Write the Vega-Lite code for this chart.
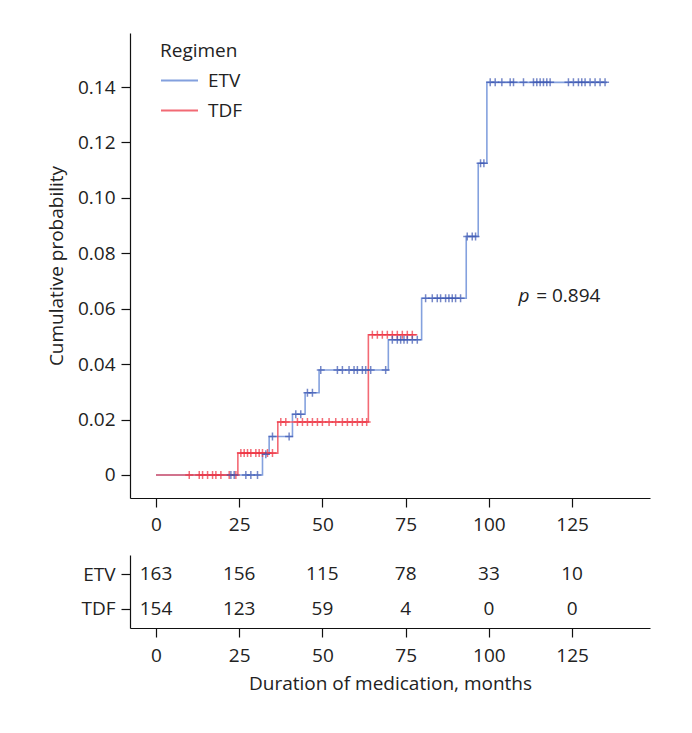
{
  "$schema": "https://vega.github.io/schema/vega-lite/v6.json",
  "background": "white",
  "padding": {"left": 47, "top": 33, "right": 40, "bottom": 40},
  "datasets": {
    "km": [
      {"group": "ETV", "time": 0, "prob": 0},
      {"group": "ETV", "time": 32, "prob": 0.0075},
      {"group": "ETV", "time": 34, "prob": 0.0139},
      {"group": "ETV", "time": 41, "prob": 0.0219},
      {"group": "ETV", "time": 44.8, "prob": 0.0297},
      {"group": "ETV", "time": 49, "prob": 0.0379},
      {"group": "ETV", "time": 69.8, "prob": 0.0488},
      {"group": "ETV", "time": 79.8, "prob": 0.0638},
      {"group": "ETV", "time": 93.2, "prob": 0.0861},
      {"group": "ETV", "time": 96.8, "prob": 0.1125},
      {"group": "ETV", "time": 99.4, "prob": 0.1417},
      {"group": "ETV", "time": 135.5, "prob": 0.1417},
      {"group": "TDF", "time": 0, "prob": 0},
      {"group": "TDF", "time": 24.6, "prob": 0.0079},
      {"group": "TDF", "time": 36.6, "prob": 0.0191},
      {"group": "TDF", "time": 63.8, "prob": 0.0506},
      {"group": "TDF", "time": 78.5, "prob": 0.0506}
    ],
    "censor": [
      {"group": "TDF", "time": 10, "prob": 0},
      {"group": "TDF", "time": 13, "prob": 0},
      {"group": "TDF", "time": 14, "prob": 0},
      {"group": "TDF", "time": 15.5, "prob": 0},
      {"group": "TDF", "time": 17, "prob": 0},
      {"group": "TDF", "time": 18, "prob": 0},
      {"group": "TDF", "time": 19.5, "prob": 0},
      {"group": "TDF", "time": 22, "prob": 0},
      {"group": "TDF", "time": 24, "prob": 0},
      {"group": "TDF", "time": 25.5, "prob": 0.0079},
      {"group": "TDF", "time": 26.5, "prob": 0.0079},
      {"group": "TDF", "time": 27.5, "prob": 0.0079},
      {"group": "TDF", "time": 28.5, "prob": 0.0079},
      {"group": "TDF", "time": 30, "prob": 0.0079},
      {"group": "TDF", "time": 31, "prob": 0.0079},
      {"group": "TDF", "time": 32, "prob": 0.0079},
      {"group": "TDF", "time": 33.5, "prob": 0.0079},
      {"group": "TDF", "time": 35, "prob": 0.0079},
      {"group": "TDF", "time": 37.5, "prob": 0.0191},
      {"group": "TDF", "time": 39, "prob": 0.0191},
      {"group": "TDF", "time": 42.5, "prob": 0.0191},
      {"group": "TDF", "time": 44, "prob": 0.0191},
      {"group": "TDF", "time": 45.5, "prob": 0.0191},
      {"group": "TDF", "time": 47, "prob": 0.0191},
      {"group": "TDF", "time": 48.5, "prob": 0.0191},
      {"group": "TDF", "time": 50, "prob": 0.0191},
      {"group": "TDF", "time": 52, "prob": 0.0191},
      {"group": "TDF", "time": 54, "prob": 0.0191},
      {"group": "TDF", "time": 56, "prob": 0.0191},
      {"group": "TDF", "time": 57.5, "prob": 0.0191},
      {"group": "TDF", "time": 59, "prob": 0.0191},
      {"group": "TDF", "time": 60.5, "prob": 0.0191},
      {"group": "TDF", "time": 62, "prob": 0.0191},
      {"group": "TDF", "time": 63.3, "prob": 0.0191},
      {"group": "TDF", "time": 65, "prob": 0.0506},
      {"group": "TDF", "time": 66.5, "prob": 0.0506},
      {"group": "TDF", "time": 68, "prob": 0.0506},
      {"group": "TDF", "time": 69.5, "prob": 0.0506},
      {"group": "TDF", "time": 71, "prob": 0.0506},
      {"group": "TDF", "time": 72.5, "prob": 0.0506},
      {"group": "TDF", "time": 74, "prob": 0.0506},
      {"group": "TDF", "time": 75.5, "prob": 0.0506},
      {"group": "TDF", "time": 77, "prob": 0.0506},
      {"group": "ETV", "time": 22.5, "prob": 0},
      {"group": "ETV", "time": 23.5, "prob": 0},
      {"group": "ETV", "time": 27, "prob": 0},
      {"group": "ETV", "time": 28.5, "prob": 0},
      {"group": "ETV", "time": 30.5, "prob": 0},
      {"group": "ETV", "time": 33, "prob": 0.0075},
      {"group": "ETV", "time": 35, "prob": 0.0139},
      {"group": "ETV", "time": 40, "prob": 0.0139},
      {"group": "ETV", "time": 42, "prob": 0.0219},
      {"group": "ETV", "time": 43.5, "prob": 0.0219},
      {"group": "ETV", "time": 45.5, "prob": 0.0297},
      {"group": "ETV", "time": 47, "prob": 0.0297},
      {"group": "ETV", "time": 49.5, "prob": 0.0379},
      {"group": "ETV", "time": 54.5, "prob": 0.0379},
      {"group": "ETV", "time": 56, "prob": 0.0379},
      {"group": "ETV", "time": 58, "prob": 0.0379},
      {"group": "ETV", "time": 59.5, "prob": 0.0379},
      {"group": "ETV", "time": 60.5, "prob": 0.0379},
      {"group": "ETV", "time": 62, "prob": 0.0379},
      {"group": "ETV", "time": 63, "prob": 0.0379},
      {"group": "ETV", "time": 64.5, "prob": 0.0379},
      {"group": "ETV", "time": 69, "prob": 0.0379},
      {"group": "ETV", "time": 71, "prob": 0.0488},
      {"group": "ETV", "time": 72.5, "prob": 0.0488},
      {"group": "ETV", "time": 73.5, "prob": 0.0488},
      {"group": "ETV", "time": 74.5, "prob": 0.0488},
      {"group": "ETV", "time": 75.5, "prob": 0.0488},
      {"group": "ETV", "time": 77, "prob": 0.0488},
      {"group": "ETV", "time": 78.5, "prob": 0.0488},
      {"group": "ETV", "time": 81, "prob": 0.0638},
      {"group": "ETV", "time": 83, "prob": 0.0638},
      {"group": "ETV", "time": 84.5, "prob": 0.0638},
      {"group": "ETV", "time": 85.5, "prob": 0.0638},
      {"group": "ETV", "time": 87, "prob": 0.0638},
      {"group": "ETV", "time": 88, "prob": 0.0638},
      {"group": "ETV", "time": 89, "prob": 0.0638},
      {"group": "ETV", "time": 90, "prob": 0.0638},
      {"group": "ETV", "time": 91.5, "prob": 0.0638},
      {"group": "ETV", "time": 93.5, "prob": 0.0861},
      {"group": "ETV", "time": 95, "prob": 0.0861},
      {"group": "ETV", "time": 96, "prob": 0.0861},
      {"group": "ETV", "time": 97.5, "prob": 0.1125},
      {"group": "ETV", "time": 98.5, "prob": 0.1125},
      {"group": "ETV", "time": 100.4, "prob": 0.1417},
      {"group": "ETV", "time": 101.9, "prob": 0.1417},
      {"group": "ETV", "time": 103.9, "prob": 0.1417},
      {"group": "ETV", "time": 106.4, "prob": 0.1417},
      {"group": "ETV", "time": 107.4, "prob": 0.1417},
      {"group": "ETV", "time": 110.4, "prob": 0.1417},
      {"group": "ETV", "time": 113.4, "prob": 0.1417},
      {"group": "ETV", "time": 114.4, "prob": 0.1417},
      {"group": "ETV", "time": 115.4, "prob": 0.1417},
      {"group": "ETV", "time": 116.4, "prob": 0.1417},
      {"group": "ETV", "time": 117.4, "prob": 0.1417},
      {"group": "ETV", "time": 118.4, "prob": 0.1417},
      {"group": "ETV", "time": 123.9, "prob": 0.1417},
      {"group": "ETV", "time": 125.4, "prob": 0.1417},
      {"group": "ETV", "time": 126.9, "prob": 0.1417},
      {"group": "ETV", "time": 127.9, "prob": 0.1417},
      {"group": "ETV", "time": 128.9, "prob": 0.1417},
      {"group": "ETV", "time": 130.4, "prob": 0.1417},
      {"group": "ETV", "time": 131.9, "prob": 0.1417},
      {"group": "ETV", "time": 133.4, "prob": 0.1417},
      {"group": "ETV", "time": 134.9, "prob": 0.1417}
    ],
    "risk": [
      {"group": "ETV", "time": 0, "n": 163},
      {"group": "ETV", "time": 25, "n": 156},
      {"group": "ETV", "time": 50, "n": 115},
      {"group": "ETV", "time": 75, "n": 78},
      {"group": "ETV", "time": 100, "n": 33},
      {"group": "ETV", "time": 125, "n": 10},
      {"group": "TDF", "time": 0, "n": 154},
      {"group": "TDF", "time": 25, "n": 123},
      {"group": "TDF", "time": 50, "n": 59},
      {"group": "TDF", "time": 75, "n": 4},
      {"group": "TDF", "time": 100, "n": 0},
      {"group": "TDF", "time": 125, "n": 0}
    ]
  },
  "vconcat": [
    {
      "width": 520,
      "height": 465,
      "layer": [
        {
          "data": {"name": "km"},
          "mark": {"type": "line", "interpolate": "step-after", "strokeWidth": 1.6, "opacity": 0.8},
          "encoding": {
            "x": {"field": "time", "type": "quantitative",
                  "scale": {"domain": [-7.8, 148.4], "nice": false, "zero": false},
                  "axis": {"values": [0, 25, 50, 75, 100, 125], "title": null, "labelPadding": 8}},
            "y": {"field": "prob", "type": "quantitative",
                  "scale": {"domain": [-0.0083, 0.1595], "nice": false, "zero": false},
                  "axis": {"values": [0, 0.02, 0.04, 0.06, 0.08, 0.1, 0.12, 0.14],
                           "labelExpr": "datum.value == 0 ? '0' : format(datum.value, '.2f')",
                           "title": "Cumulative probability", "titlePadding": 11}},
            "color": {"field": "group", "type": "nominal",
                      "scale": {"domain": ["ETV", "TDF"], "range": ["#6589d6", "#f04552"]},
                      "legend": {"title": "Regimen", "orient": "none", "legendX": 30, "legendY": 9,
                                 "symbolType": "stroke", "symbolSize": 1369, "symbolStrokeWidth": 2,
                                 "labelFontSize": 19, "titleFontSize": 19, "titleFontWeight": "normal",
                                 "titleColor": "#222", "labelColor": "#222", "rowPadding": 0,
                                 "labelOffset": 9, "titlePadding": 0}}
          }
        },
        {
          "data": {"name": "censor"},
          "mark": {"type": "point", "shape": "M-1,0H1M0,-1V1", "size": 64, "filled": false, "strokeWidth": 1.5},
          "encoding": {
            "x": {"field": "time", "type": "quantitative"},
            "y": {"field": "prob", "type": "quantitative"},
            "stroke": {"field": "group", "type": "nominal",
                       "scale": {"domain": ["ETV", "TDF"], "range": ["#3d57b2", "#ee2f3e"]},
                       "legend": null}
          }
        },
        {
          "data": {"values": [{}]},
          "mark": {"type": "text", "text": "p", "fontStyle": "italic", "fontSize": 19, "align": "right", "baseline": "middle", "color": "#222"},
          "encoding": {"x": {"datum": 112.2}, "y": {"datum": 0.0647}}
        },
        {
          "data": {"values": [{}]},
          "mark": {"type": "text", "text": "= 0.894", "fontSize": 19, "align": "left", "baseline": "middle", "color": "#222"},
          "encoding": {"x": {"datum": 114.2}, "y": {"datum": 0.0647}}
        }
      ]
    },
    {
      "width": 520,
      "height": 73,
      "data": {"name": "risk"},
      "mark": {"type": "text", "fontSize": 19, "color": "#222", "baseline": "middle"},
      "encoding": {
        "x": {"field": "time", "type": "quantitative",
              "scale": {"domain": [-7.8, 148.4], "nice": false, "zero": false},
              "axis": {"values": [0, 25, 50, 75, 100, 125], "title": "Duration of medication, months", "titlePadding": 9, "labelPadding": 9}},
        "y": {"field": "group", "type": "nominal",
              "scale": {"type": "point", "domain": ["ETV", "TDF"], "padding": 0.57},
              "axis": {"title": null}},
        "text": {"field": "n", "type": "quantitative"}
      }
    }
  ],
  "spacing": 57,
  "bounds": "flush",
  "resolve": {"scale": {"x": "independent", "y": "independent", "color": "independent"}},
  "config": {
    "font": "Open Sans",
    "view": {"stroke": null},
    "axis": {
      "grid": false,
      "domainColor": "#111",
      "tickColor": "#111",
      "labelColor": "#222",
      "titleColor": "#222",
      "labelFontSize": 19,
      "titleFontSize": 19,
      "titleFontWeight": "normal",
      "tickSize": 9,
      "labelPadding": 6,
      "domainWidth": 1.2,
      "tickWidth": 1.2
    }
  }
}
